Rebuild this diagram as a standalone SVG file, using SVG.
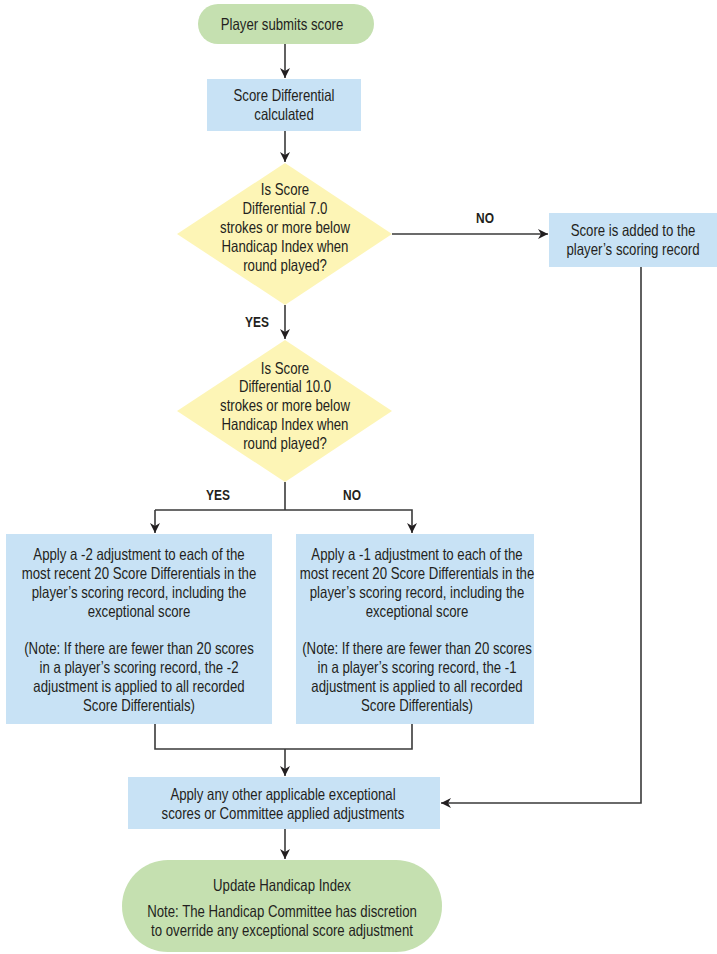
<svg xmlns="http://www.w3.org/2000/svg" width="717" height="954" viewBox="0 0 717 954">
<defs>
<marker id="arr" viewBox="0 0 10 10" refX="10" refY="5" markerWidth="10" markerHeight="10" markerUnits="userSpaceOnUse" orient="auto">
<path d="M0,0 L10,5 L0,10 L3,5 Z" fill="#231f20"/>
</marker>
<style>
text{font-family:"Liberation Sans",Arial,sans-serif;font-size:16.5px;fill:#231f20;text-anchor:middle}
.lbl{font-weight:bold;font-size:15.5px}
.term{fill:#c5e0b0}
.proc{fill:#c8e2f5}
.dec{fill:#fdf5b6}
.ln{fill:none;stroke:#3a3a3a;stroke-width:1.6}
</style>
</defs>
<rect width="717" height="954" fill="#ffffff"/>
<g id="connectors">
<line class="ln" x1="285" y1="44" x2="285" y2="78" marker-end="url(#arr)"/>
<line class="ln" x1="285" y1="131" x2="285" y2="162" marker-end="url(#arr)"/>
<line class="ln" x1="392" y1="234" x2="548" y2="234" marker-end="url(#arr)"/>
<line class="ln" x1="285" y1="305" x2="285" y2="339" marker-end="url(#arr)"/>
<polyline class="ln" points="285,482 285,510"/>
<polyline class="ln" points="155,510 412,510 412,533" marker-end="url(#arr)"/>
<line class="ln" x1="155" y1="510" x2="155" y2="533" marker-end="url(#arr)"/>
<polyline class="ln" points="155,724 155,749 412,749 412,724"/>
<line class="ln" x1="285" y1="749" x2="285" y2="776" marker-end="url(#arr)"/>
<polyline class="ln" points="641,267 641,803 441,803" marker-end="url(#arr)"/>
<line class="ln" x1="285" y1="829" x2="285" y2="859" marker-end="url(#arr)"/>
<g transform="translate(485,0) scale(0.77,1)"><text class="lbl" x="0" y="223">NO</text></g>
<g transform="translate(257,0) scale(0.77,1)"><text class="lbl" x="0" y="327">YES</text></g>
<g transform="translate(218,0) scale(0.77,1)"><text class="lbl" x="0" y="500">YES</text></g>
<g transform="translate(352,0) scale(0.77,1)"><text class="lbl" x="0" y="500">NO</text></g>
</g>
<g id="start">
<rect class="term" x="198" y="4" width="176" height="40" rx="20"/>
<g transform="translate(282,0) scale(0.8,1)">
<text x="0" y="30.5">Player submits score</text>
</g>
</g>
<g id="calc">
<rect class="proc" x="207" y="79" width="154" height="52"/>
<g transform="translate(284,0) scale(0.8,1)">
<text x="0" y="101">Score Differential</text>
<text x="0" y="120">calculated</text>
</g>
</g>
<g id="decision1">
<polygon class="dec" points="285,163 392,234 285,305 177,234"/>
<g transform="translate(285,0) scale(0.8,1)">
<text x="0" y="195">Is Score</text>
<text x="0" y="214">Differential 7.0</text>
<text x="0" y="233">strokes or more below</text>
<text x="0" y="252">Handicap Index when</text>
<text x="0" y="271">round played?</text>
</g>
</g>
<g id="added">
<rect class="proc" x="549" y="213" width="168" height="54"/>
<g transform="translate(633,0) scale(0.8,1)">
<text x="0" y="236">Score is added to the</text>
<text x="0" y="255">player’s scoring record</text>
</g>
</g>
<g id="decision2">
<polygon class="dec" points="285,340 392,411 285,482 177,411"/>
<g transform="translate(285,0) scale(0.8,1)">
<text x="0" y="374">Is Score</text>
<text x="0" y="392">Differential 10.0</text>
<text x="0" y="411">strokes or more below</text>
<text x="0" y="430">Handicap Index when</text>
<text x="0" y="449">round played?</text>
</g>
</g>
<g id="adjust2">
<rect class="proc" x="6" y="534" width="266" height="190"/>
<g transform="translate(139,0) scale(0.8,1)">
<text x="0" y="560">Apply a -2 adjustment to each of the</text>
<text x="0" y="579">most recent 20 Score Differentials in the</text>
<text x="0" y="598">player’s scoring record, including the</text>
<text x="0" y="617">exceptional score</text>
<text x="0" y="654">(Note: If there are fewer than 20 scores</text>
<text x="0" y="673">in a player’s scoring record, the -2</text>
<text x="0" y="692">adjustment is applied to all recorded</text>
<text x="0" y="711">Score Differentials)</text>
</g>
</g>
<g id="adjust1">
<rect class="proc" x="296" y="534" width="238" height="190"/>
<g transform="translate(417,0) scale(0.8,1)">
<text x="0" y="560">Apply a -1 adjustment to each of the</text>
<text x="0" y="579">most recent 20 Score Differentials in the</text>
<text x="0" y="598">player’s scoring record, including the</text>
<text x="0" y="617">exceptional score</text>
<text x="0" y="654">(Note: If there are fewer than 20 scores</text>
<text x="0" y="673">in a player’s scoring record, the -1</text>
<text x="0" y="692">adjustment is applied to all recorded</text>
<text x="0" y="711">Score Differentials)</text>
</g>
</g>
<g id="other">
<rect class="proc" x="128" y="777" width="312" height="52"/>
<g transform="translate(283,0) scale(0.8,1)">
<text x="0" y="800">Apply any other applicable exceptional</text>
<text x="0" y="819">scores or Committee applied adjustments</text>
</g>
</g>
<g id="update">
<rect class="term" x="122" y="860" width="320" height="92" rx="46"/>
<g transform="translate(282,0) scale(0.8,1)">
<text x="0" y="891">Update Handicap Index</text>
<text x="0" y="917">Note: The Handicap Committee has discretion</text>
<text x="0" y="936">to override any exceptional score adjustment</text>
</g>
</g>
</svg>
